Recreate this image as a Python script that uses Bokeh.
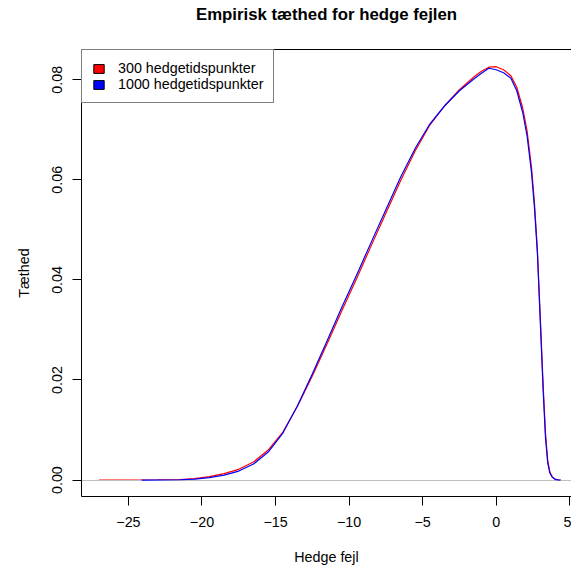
from bokeh.plotting import figure
from bokeh.models import Range1d, FixedTicker, LinearAxis, Legend, LegendItem
from bokeh.embed import file_html
from bokeh.resources import INLINE

# ---------------- data ----------------
title_text = "Empirisk tæthed for hedge fejlen"
x_label = "Hedge fejl"
y_label = "Tæthed"
series_names = ["300 hedgetidspunkter", "1000 hedgetidspunkter"]
series_colors = ["#FF0000", "#0000FF"]

x300 = [-27.0, -25.0, -23.0, -21.5, -20.5, -19.5, -18.5, -17.5, -16.5, -15.5,
        -14.5, -13.5, -12.5, -11.5, -10.5, -9.5, -8.5, -7.5, -6.5, -5.5,
        -4.5, -3.5, -2.5, -1.5, -1.0, -0.5, 0.0, 0.5, 1.0, 1.4,
        1.8, 2.1, 2.4, 2.6, 2.8, 3.0, 3.2, 3.35, 3.5, 3.65,
        3.8, 4.0, 4.2, 4.4]
y300 = [0.00000, 0.00001, 0.00004, 0.00012, 0.00028, 0.00070, 0.00130, 0.00215, 0.00360, 0.00600,
        0.00960, 0.01480, 0.02080, 0.02720, 0.03380, 0.04020, 0.04680, 0.05330, 0.05980, 0.06580,
        0.07100, 0.07480, 0.07800, 0.08060, 0.08170, 0.08250, 0.08260, 0.08200, 0.08080, 0.07850,
        0.07440, 0.06980, 0.06250, 0.05550, 0.04600, 0.03250, 0.01850, 0.00950, 0.00400, 0.00160,
        0.00070, 0.00020, 0.00005, 0.00000]

x1000 = [-24.1, -23.0, -21.5, -20.5, -19.5, -18.5, -17.5, -16.5, -15.5,
         -14.5, -13.5, -12.5, -11.5, -10.5, -9.5, -8.5, -7.5, -6.5, -5.5,
         -4.5, -3.5, -2.5, -1.5, -1.0, -0.5, 0.0, 0.5, 1.0, 1.4,
         1.8, 2.1, 2.4, 2.6, 2.8, 3.0, 3.2, 3.35, 3.5, 3.65,
         3.8, 4.0, 4.2, 4.37]
y1000 = [0.00000, 0.00002, 0.00007, 0.00018, 0.00048, 0.00100, 0.00180, 0.00320, 0.00560,
         0.00940, 0.01490, 0.02120, 0.02780, 0.03450, 0.04090, 0.04750, 0.05400, 0.06050, 0.06630,
         0.07120, 0.07480, 0.07780, 0.08020, 0.08130, 0.08230, 0.08200, 0.08140, 0.08030, 0.07780,
         0.07350, 0.06880, 0.06150, 0.05450, 0.04550, 0.03150, 0.01750, 0.00850, 0.00350, 0.00140,
         0.00060, 0.00015, 0.00003, 0.00000]

xtick_values = [-25, -20, -15, -10, -5, 0, 5]
xtick_labels = ["\u221225", "\u221220", "\u221215", "\u221210", "\u22125", "0", "5"]
ytick_values = [0.0, 0.02, 0.04, 0.06, 0.08]
ytick_labels = ["0.00", "0.02", "0.04", "0.06", "0.08"]

x_limits = (-28.19, 5.12)
y_limits = (-0.00328, 0.08604)

# ---------------- figure ----------------
FONT = "Liberation Sans"
FS = "14.3px"

p = figure(width=571, height=571, output_backend="svg", toolbar_location=None,
           x_range=Range1d(*x_limits), y_range=Range1d(*y_limits),
           min_border_left=81, min_border_right=0, min_border_top=49, min_border_bottom=75,
           background_fill_color="white", border_fill_color="white")
p.title = None
p.outline_line_color = None
p.xgrid.visible = False
p.ygrid.visible = False

# density lines (red first, then zero line, then blue, as in plot.density + lines)
p.line(x300, y300, line_color=series_colors[0], line_width=1.2)
p.hspan(y=[0], line_color="#bebebe", line_width=1)
p.line(x1000, y1000, line_color=series_colors[1], line_width=1.2)

# axes
for ax in (p.xaxis[0], p.yaxis[0]):
    ax.axis_line_color = "black"
    ax.axis_line_width = 1
    ax.major_tick_line_color = "black"
    ax.major_tick_in = 0
    ax.major_tick_out = 9
    ax.minor_tick_line_color = None
    ax.major_label_text_font = FONT
    ax.major_label_text_font_size = FS
    ax.major_label_text_color = "black"
    ax.axis_label_text_font = FONT
    ax.axis_label_text_font_size = FS
    ax.axis_label_text_font_style = "normal"
    ax.axis_label_text_color = "black"

p.xaxis.ticker = FixedTicker(ticks=xtick_values)
p.xaxis.major_label_overrides = dict(zip(xtick_values, xtick_labels))
p.xaxis.axis_label = x_label
p.xaxis.major_label_standoff = 11
p.xaxis.axis_label_standoff = 19

p.yaxis.ticker = FixedTicker(ticks=ytick_values)
p.yaxis.major_label_overrides = dict(zip(ytick_values, ytick_labels))
p.yaxis.major_label_orientation = "vertical"
p.yaxis.axis_label = y_label
p.yaxis.major_label_standoff = 10
p.yaxis.axis_label_standoff = 18

# top border line of the box; its label carries the (bold) chart title
top_axis = LinearAxis(ticker=FixedTicker(ticks=[]), axis_line_color="black",
                      major_tick_out=0, major_tick_in=0, major_tick_line_color=None,
                      minor_tick_line_color=None, major_label_text_font_size="0px",
                      axis_label=title_text, axis_label_standoff=26,
                      axis_label_text_font=FONT, axis_label_text_font_size="16.8px",
                      axis_label_text_font_style="bold", axis_label_text_color="black")
p.add_layout(top_axis, "above")

# legend with filled boxes (proxy renderers that draw nothing in the plot)
nan = float("nan")
r_a = p.quad(left=[nan], right=[nan], top=[nan], bottom=[nan],
             fill_color=series_colors[0], line_color="black")
r_b = p.quad(left=[nan], right=[nan], top=[nan], bottom=[nan],
             fill_color=series_colors[1], line_color="black")
legend = Legend(items=[LegendItem(label=series_names[0], renderers=[r_a]),
                       LegendItem(label=series_names[1], renderers=[r_b])],
                location="top_left", margin=0, padding=10, spacing=0,
                glyph_width=13, glyph_height=11, label_height=11, label_width=144,
                label_standoff=13, label_text_font=FONT, label_text_font_size=FS,
                label_text_color="black", border_line_color="black", border_line_width=1,
                background_fill_color="white", background_fill_alpha=1.0)
p.add_layout(legend, "center")

open("out.html", "w").write(file_html(p, INLINE))
